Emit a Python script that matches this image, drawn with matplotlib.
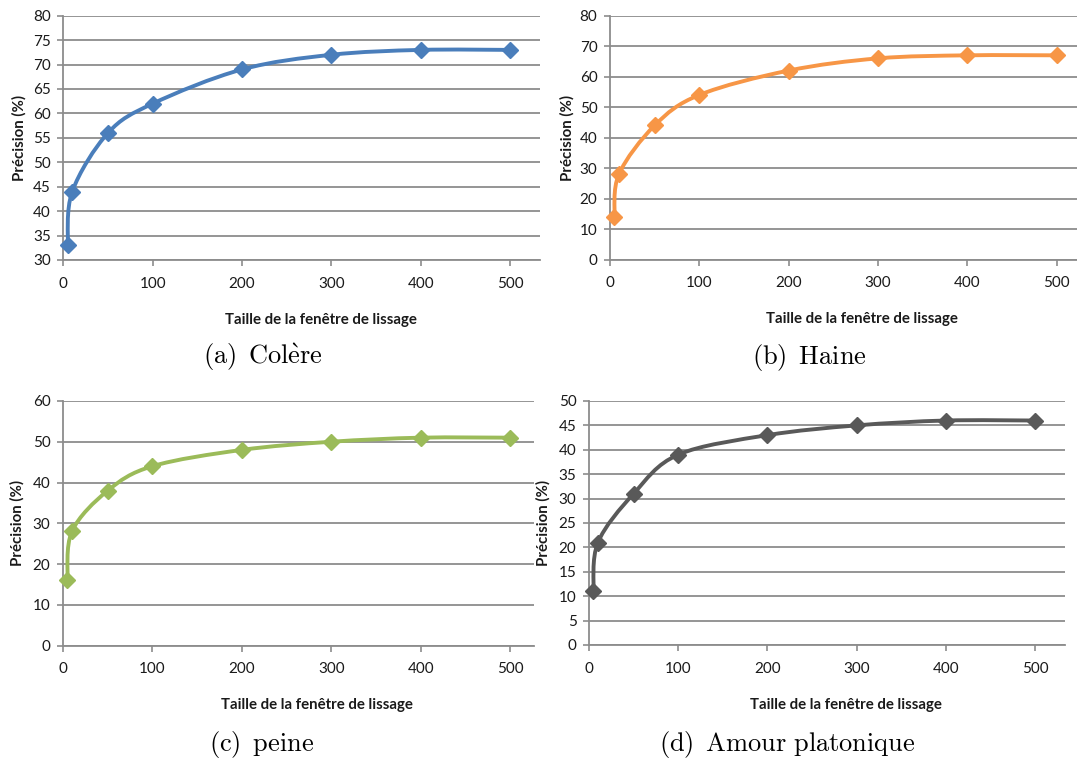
import numpy as np
import matplotlib
matplotlib.use("Agg")
import matplotlib.pyplot as plt
from matplotlib.path import Path
from matplotlib.patches import PathPatch

plt.rcParams['mathtext.fontset'] = 'cm'
plt.rcParams['font.family'] = ['Lato', 'DejaVu Sans']

# ---- data ----
window = [5, 10, 50, 100, 200, 300, 400, 500]
colere = [33, 44, 56, 62, 69, 72, 73, 73]
haine = [14, 28, 44, 54, 62, 66, 67, 67]
peine = [16, 28, 38, 44, 48, 50, 51, 51]
amour = [11, 21, 31, 39, 43, 45, 46, 46]

x_ticks = [0, 100, 200, 300, 400, 500]
captions = [r'$\mathrm{(a)\ \,Col\grave{e}re}$', r'$\mathrm{(b)\ \,Haine}$',
            r'$\mathrm{(c)\ \,peine}$', r'$\mathrm{(d)\ \,Amour\ platonique}$']
xlabel = 'Taille de la fenêtre de lissage'
ylabel = 'Précision (%)'

series = [colere, haine, peine, amour]
colors = ['#4A7EBB', '#F79646', '#9BBB59', '#595959']
ylims = [(30, 80, 5), (0, 80, 10), (0, 60, 10), (0, 50, 5)]

W, H = 1077, 760
# axes rectangles in pixels: left, right, top, bottom
rects = [(63.3, 540, 15.7, 260), (610, 1077, 15.7, 259.5),
         (63, 534, 401, 645.5), (589, 1065, 401, 645)]
xmax = [533.6, 522.7, 526.8, 533.6]
ylab_x = [19, 567, 17, 543]
cap_pos = [(263, 357), (809, 357), (262, 744), (787, 744)]

fig = plt.figure(figsize=(W / 100, H / 100), dpi=100)


def smooth_path(xs, ys):
    pts = np.column_stack([xs, ys]).astype(float)
    n = len(pts)
    verts = [pts[0]]
    codes = [Path.MOVETO]
    for i in range(n - 1):
        p0 = pts[i - 1] if i > 0 else pts[i]
        p1 = pts[i]
        p2 = pts[i + 1]
        p3 = pts[i + 2] if i + 2 < n else pts[i + 1]
        c1 = p1 + (p2 - p0) / 6.0
        c2 = p2 - (p3 - p1) / 6.0
        verts += [c1, c2, p2]
        codes += [Path.CURVE4] * 3
    return Path(verts, codes)


for k in range(4):
    l, r, t, b = rects[k]
    ax = fig.add_axes([l / W, 1 - b / H, (r - l) / W, (b - t) / H])
    y0, y1, ys = ylims[k]
    ax.set_xlim(0, xmax[k])
    ax.set_ylim(y0, y1)
    ax.set_yticks(np.arange(y0, y1 + 0.1, ys))
    ax.set_xticks(x_ticks)
    ax.grid(axis='y', color='#8C8C8C', lw=1.3)
    ax.set_axisbelow(True)
    for s in ['top', 'right']:
        ax.spines[s].set_visible(False)
    for s in ['left', 'bottom']:
        ax.spines[s].set_color('#8C8C8C')
        ax.spines[s].set_linewidth(1.3)
    ax.tick_params(axis='both', colors='#8C8C8C', length=4, width=1.2,
                   labelcolor='#1a1a1a', labelsize=11)
    ax.tick_params(axis='y', pad=5)
    ax.tick_params(axis='x', pad=8)
    path = smooth_path(window, series[k])
    ax.add_patch(PathPatch(path, fill=False, edgecolor=colors[k], lw=2.8,
                           capstyle='round', joinstyle='round', zorder=3))
    ax.plot(window, series[k], ls='none', marker='D', ms=8.5,
            color=colors[k], zorder=4, clip_on=False)
    ax.set_xlabel(xlabel, fontweight='bold', fontsize=10.8, color='#1a1a1a')
    ax.xaxis.label.set_va('center')
    ax.xaxis.set_label_coords(0.54, -60 / (b - t))
    ax.set_ylabel(ylabel, fontweight='bold', fontsize=10.8, color='#1a1a1a')
    ax.yaxis.label.set_va('center')
    ax.yaxis.set_label_coords((ylab_x[k] - l) / (r - l), 0.5)
    cx, cy = cap_pos[k]
    fig.text(cx / W, 1 - cy / H, captions[k], ha='center', va='center',
             fontsize=19, color='black')

fig.savefig('out.png', dpi=100)
